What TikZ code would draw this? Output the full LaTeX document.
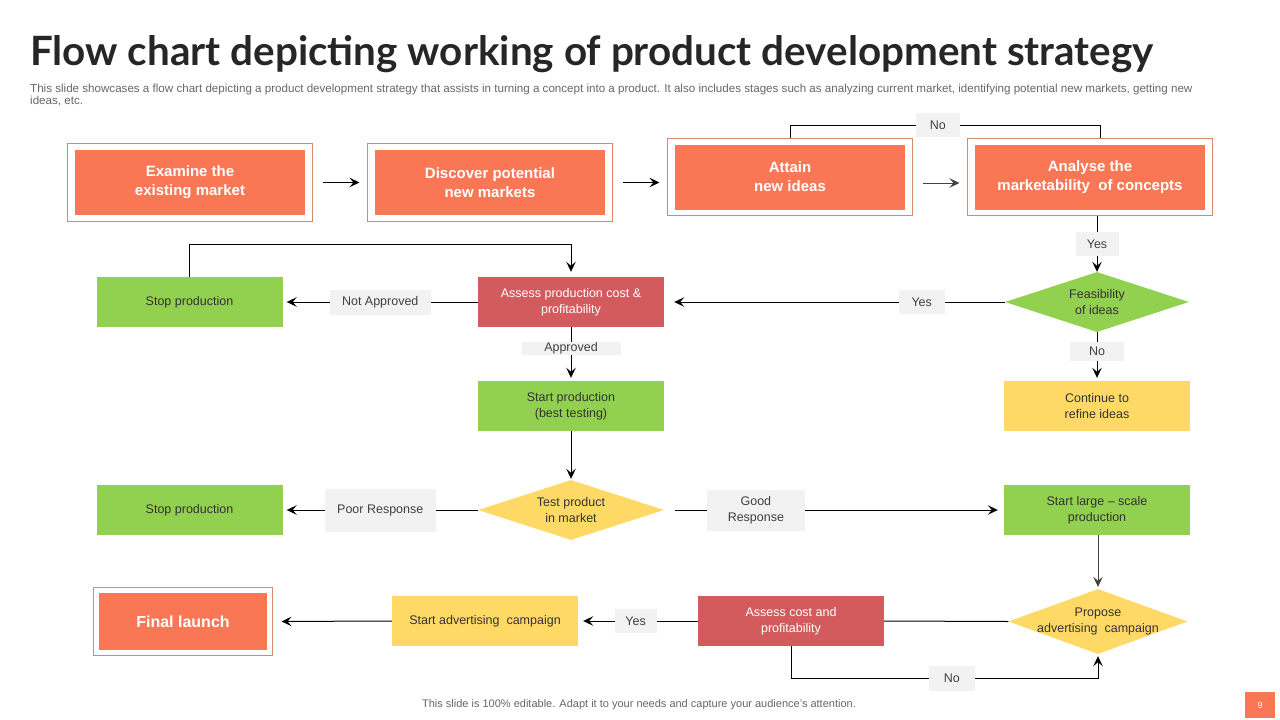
\documentclass[tikz,border=0pt]{standalone}
\usepackage{fontspec}
\setmainfont{Liberation Sans}
\newfontfamily\titlefont{Lato}
\usetikzlibrary{shapes.geometric,arrows.meta,fit}

\definecolor{orng}{HTML}{FA7756}
\definecolor{frm}{HTML}{D9896B}
\definecolor{redb}{HTML}{D35B5E}
\definecolor{grn}{HTML}{92D050}
\definecolor{ylw}{HTML}{FFD966}
\definecolor{lblbg}{HTML}{F2F2F2}
\definecolor{txt}{HTML}{404040}
\definecolor{dtxt}{HTML}{333333}
\definecolor{ttl}{HTML}{262626}
\definecolor{subc}{HTML}{666666}

\begin{document}
\begin{tikzpicture}[x=1pt, y=-1pt,
        orbox/.style={fill=orng, text=white, font=\fontsize{15}{19}\selectfont\bfseries,
            minimum width=230, minimum height=65, inner sep=0, align=center},
        frame/.style={draw=frm, line width=0.7pt, inner xsep=7, inner ysep=6},
        rbox/.style={minimum width=186, minimum height=50, inner sep=0, align=center,
            font=\fontsize{12.5}{16}\selectfont},
        gbox/.style={rbox, fill=grn, text=dtxt},
        redbox/.style={rbox, fill=redb, text=white},
        ybox/.style={rbox, fill=ylw, text=dtxt},
        dia/.style={diamond, aspect=3, minimum width=184, minimum height=60, inner xsep=-30pt,
            inner ysep=0, align=center, font=\fontsize{12.5}{16}\selectfont},
        lbl/.style={fill=lblbg, text=txt, font=\fontsize{12.5}{16}\selectfont,
            minimum width=44, minimum height=24, inner sep=2, align=center},
        arr/.style={-{Stealth[length=10pt, width=9.5pt, inset=4pt]}, line width=1pt},
        ln/.style={line width=1pt}]
    \useasboundingbox (0,0) rectangle (1280,720);

    % title
    \node[anchor=base west, inner sep=0, text=ttl] (title) at (30,65)
        {\titlefont\bfseries\fontsize{40.4}{44}\selectfont Flow chart depicting working of product development strategy};
    \node[anchor=north west, inner sep=0, text=subc, align=left] (sub) at (30,84)
        {\fontsize{11.6}{14}\selectfont This slide showcases a flow chart depicting a product development strategy that assists in turning a concept into a product. It also includes stages such as analyzing current market, identifying potential new markets, getting new\\
         \fontsize{11.6}{14}\selectfont ideas, etc.};

    % top row
    \node[orbox] (b1) at (190,182.5) {Examine the\\existing market};
    \node[orbox] (b2) at (490,182.5) {Discover potential\\new markets};
    \node[orbox] (b3) at (790,177) {Attain\\new ideas};
    \node[orbox] (b4) at (1090,177) {Analyse the\\marketability~ of concepts};
    \node[frame, fit=(b1)] (b1f) {};
    \node[frame, fit=(b2)] (b2f) {};
    \node[frame, fit=(b3)] (b3f) {};
    \node[frame, fit=(b4)] (b4f) {};

    % second row
    \node[gbox] (s1) at (189.5,302) {Stop production};
    \node[redbox] (a1) at (571,302) {Assess production cost \&\\profitability};
    \node[dia, fill=grn, text=dtxt] (d1) at (1097,302) {Feasibility\\of ideas};
    \node[ybox] (c1) at (1097,406) {Continue to\\refine ideas};
    \node[gbox] (p1) at (571,406) {Start production\\(best testing)};

    % third row
    \node[dia, fill=ylw, text=dtxt, minimum width=186] (t1) at (571,510) {Test product\\in market};
    \node[gbox] (s2) at (189.5,510) {Stop production};
    \node[gbox] (g1) at (1097,510) {Start large -- scale\\production};

    % fourth row
    \node[dia, fill=ylw, text=dtxt, minimum width=179, minimum height=65] (pd) at (1098,621.5) {Propose\\advertising~ campaign};
    \node[redbox] (ac) at (791,621) {Assess cost and\\profitability};
    \node[ybox] (sa) at (485,621) {Start advertising~ campaign};
    \node[orbox, minimum width=168, minimum height=57, font=\fontsize{16}{19}\selectfont\bfseries] (fl) at (183,621.5) {Final launch};
    \node[frame, fit=(fl), inner xsep=5, inner ysep=5] (flf) {};

    % footer
    \node[text=subc, font=\fontsize{11}{13}\selectfont] (foot) at (639,705)
        {This slide is 100\% editable. Adapt it to your needs and capture your audience’s attention.};
    \node[fill=orng, text=white, minimum width=30, minimum height=26, inner sep=0,
        font=\fontsize{9}{11}\selectfont] (pg) at (1260,705) {9};

    % top row connectors
    \coordinate (n1) at (790,125);
    \coordinate (n2) at (1100,125);
    \draw[arr, shorten <=10, shorten >=8] (b1f) -- (b2f);
    \draw[arr, shorten <=10, shorten >=8] (b2f.east) -- ([yshift=-5.5]b3f.west);
    \draw[arr, draw=txt, shorten <=10, shorten >=8] ([yshift=-6]b3f.east) -- ([yshift=-6]b4f.west);
    \draw[ln] (b3f.north) -- (n1) -- node[lbl, pos=0.477]{No} (n2) -- (n2 |- b4f.north);

    % second row connectors
    \coordinate (n3) at (189.5,244);
    \draw[arr, shorten >=5] (s1.north) -- (n3) -| (a1.north);
    \draw[arr] (b4f.south -| d1) -- node[lbl, minimum width=43]{Yes} (d1.north);
    \draw[arr, shorten >=10] (d1.west) -- node[lbl, pos=0.244, minimum width=46]{Yes} (a1.east);
    \draw[arr, shorten >=4] (a1.west) -- node[lbl, minimum width=101, minimum height=25]{Not Approved} (s1.east);
    \draw[arr, shorten >=3] (a1.south) -- node[lbl, pos=0.39, minimum width=99, minimum height=13, inner ysep=0]{Approved} (p1.north);
    \draw[arr, shorten >=3] (d1.south) -- node[lbl, pos=0.39, minimum width=54, minimum height=19, inner ysep=0]{No} (c1.north);

    % third row connectors
    \draw[arr, shorten >=1] (p1.south) -- (t1.north);
    \draw[arr, shorten <=0, shorten >=4] (t1.west) -- node[lbl, minimum width=111, minimum height=43]{Poor Response} (s2.east);
    \draw[arr, shorten <=11, shorten >=6] (t1.east) -- node[lbl, pos=0.27, minimum width=98, minimum height=41]{Good\\Response} (g1.west);
    \draw[arr, draw=txt, shorten >=2] (g1.south -| pd) -- (pd.north);

    % fourth row connectors
    \coordinate (n4) at (791,678);
    \draw[ln] (pd.west) -- (ac.east);
    \draw[arr, shorten >=5] (ac.west) -- node[lbl, pos=0.52, minimum width=42]{Yes} (sa.east);
    \draw[arr, shorten >=9] (sa.west) -- (flf.east);
    \draw[arr, shorten >=2] (ac.south) -- (n4) -- node[lbl, pos=0.524, minimum width=46, minimum height=25]{No} (n4 -| pd.south) -- (pd.south);
\end{tikzpicture}
\end{document}
